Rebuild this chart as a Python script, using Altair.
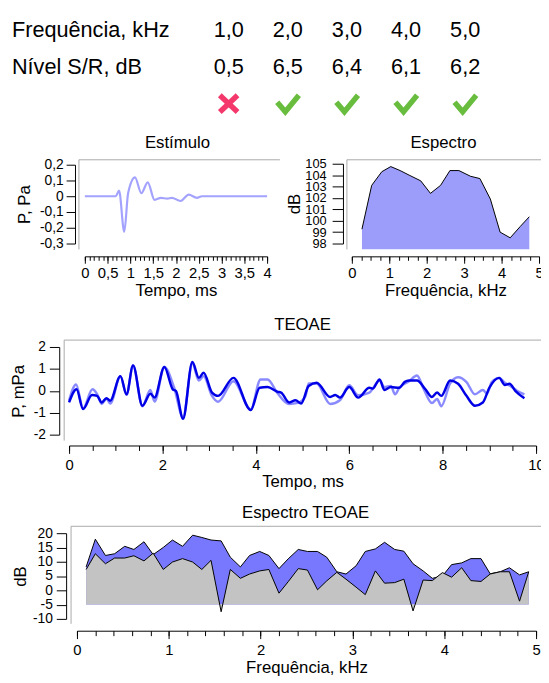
import altair as alt
import pandas as pd

W, H = 541, 675
FONT = "Liberation Sans"
FRAME = "#a9a9a9"

# ---------------- data ----------------
table_freq = [1.0, 2.0, 3.0, 4.0, 5.0]
table_snr = [0.5, 6.5, 6.4, 6.1, 6.2]
table_pass = [False, True, True, True, True]
row_labels = ["Frequência, kHz", "Nível S/R, dB"]

stim_t = [0.0, 0.68, 0.75, 0.865, 0.95, 1.10, 1.24, 1.38, 1.53, 1.67, 1.81, 1.91, 2.10, 2.28, 2.46, 2.57, 2.85, 3.2, 4.0]
stim_p = [0.0, 0.0, 0.036, -0.225, 0.02, 0.12, 0.02, 0.088, -0.023, -0.01, -0.015, -0.01, -0.03, 0.01, -0.01, 0.0, 0.0, 0.0, 0.0]

spec_f = [0.27, 0.53, 0.80, 1.04, 1.29, 1.53, 1.84, 2.10, 2.37, 2.62, 2.86, 3.17, 3.42, 3.70, 3.96, 4.23, 4.50, 4.74]
spec_db = [99.26, 103.1, 104.3, 104.75, 104.4, 104.0, 103.5, 102.4, 103.1, 104.4, 104.4, 103.9, 103.7, 101.9, 99.0, 98.5, 99.5, 100.35]

teo_dark_t = [0.0, 0.16, 0.30, 0.49, 0.60, 0.70, 0.80, 0.88, 1.10, 1.23, 1.37, 1.57, 1.74, 1.83, 2.04, 2.22, 2.29, 2.44,
              2.64, 2.78, 2.88, 3.06, 3.19, 3.52, 3.89, 4.08, 4.25, 4.46, 4.54, 4.71, 4.85, 4.97, 5.13, 5.30, 5.59, 5.70,
              5.80, 6.00, 6.19, 6.43, 6.50, 6.65, 6.75, 6.89, 7.07, 7.19, 7.28, 7.45, 7.63, 7.77, 7.88, 7.97, 8.16, 8.33,
              8.51, 8.69, 8.86, 9.00, 9.21, 9.33, 9.43, 9.56, 9.75]
teo_dark_v = [-0.53, 0.07, -0.83, -0.19, -0.23, -0.53, -0.34, -0.45, 0.67, -0.16, 1.16, -0.68, -0.13, -0.31, 1.09, 0.07, -0.01, -1.28,
              1.31, 0.59, 0.82, -0.08, -0.23, 0.59, -0.88, 0.14, 0.17, -0.04, -0.08, -0.53, -0.43, -0.58, 0.22, 0.37, -0.28, -0.19,
              -0.31, 0.17, -0.31, 0.14, 0.10, 0.52, 0.04, 0.17, 0.14, 0.41, 0.47, 0.47, 0.07, -0.28, -0.08, -0.23, 0.47, 0.32,
              -0.23, -0.68, -0.53, 0.14, 0.59, 0.27, 0.32, -0.01, -0.34]

teo_light_t = [0.0, 0.15, 0.30, 0.50, 0.60, 0.70, 0.80, 0.88, 1.10, 1.23, 1.37, 1.57, 1.74, 1.83, 2.04, 2.25, 2.44, 2.64,
               2.78, 2.88, 3.06, 3.19, 3.52, 3.89, 4.10, 4.25, 4.46, 4.71, 4.90, 5.06, 5.13, 5.30, 5.59, 5.80, 6.00, 6.19,
               6.43, 6.65, 6.75, 6.89, 6.98, 7.07, 7.28, 7.45, 7.59, 7.77, 7.88, 7.97, 8.16, 8.33, 8.51, 8.69, 8.86, 8.95,
               9.05, 9.21, 9.33, 9.45, 9.60, 9.75]
teo_light_v = [-0.45, 0.29, -0.80, 0.07, -0.15, -0.60, -0.35, -0.58, 0.67, -0.18, 1.16, -0.70, 0.04, -0.49, 1.09, 0.14, -1.20, 1.24,
               0.47, 0.67, -0.23, -0.50, 0.44, -0.85, 0.52, 0.52, -0.10, -0.60, -0.55, -0.25, 0.33, 0.33, -0.60, -0.43, 0.25, -0.20,
               -0.08, 0.47, 0.17, 0.22, -0.16, 0.14, 0.44, 0.70, 0.10, -0.56, -0.37, -0.70, 0.34, 0.62, 0.40, -0.16, 0.04, -0.13,
               0.40, 0.59, 0.37, 0.22, -0.01, -0.16]

oae_f = [0.10, 0.20, 0.31, 0.41, 0.52, 0.62, 0.73, 0.83, 0.94, 1.04, 1.15, 1.26, 1.36, 1.46, 1.57, 1.67, 1.78, 1.88, 1.99, 2.09,
         2.20, 2.30, 2.41, 2.51, 2.62, 2.72, 2.83, 2.93, 3.04, 3.14, 3.25, 3.35, 3.46, 3.56, 3.66, 3.77, 3.87, 3.98, 4.08, 4.19,
         4.29, 4.40, 4.50, 4.61, 4.71, 4.82, 4.92]
oae_signal = [8.2, 17.9, 12.2, 12.8, 15.4, 14.3, 17.0, 12.5, 15.0, 17.6, 15.4, 19.3, 18.5, 17.6, 17.3, 11.6, 8.2, 12.2, 13.6, 12.2,
              7.6, 11.0, 14.3, 13.6, 13.6, 11.6, 6.5, 5.7, 8.6, 13.6, 14.5, 16.8, 14.3, 13.7, 9.3, 6.8, 4.2, 5.0, 9.0, 9.6,
              11.1, 11.1, 5.8, 6.5, 7.9, 5.4, 6.5]
oae_noise = [7.3, 12.8, 9.3, 11.3, 11.3, 12.1, 10.3, 13.0, 7.3, 9.9, 11.1, 9.9, 7.3, 10.5, -7.5, 7.3, 4.2, 5.7, 6.8, 7.3,
             -1.0, 3.0, 7.6, 7.1, 0.2, 3.3, 6.3, 3.9, 1.1, -1.5, 6.8, 2.5, 2.7, 3.9, -7.2, 3.6, 3.4, 6.2, 4.6, 7.9,
             3.4, 3.1, 5.7, 6.5, 6.5, -3.8, 6.5]
oae_floor = -5

# ---------------- helpers ----------------
ONE = pd.DataFrame({"k": [0]})
MINUS = "\u2212"


def frame(left, top, right, bottom):
    t = alt.Chart(ONE).mark_rule(color=FRAME, strokeWidth=1).encode(
        x=alt.value(left), x2=alt.value(right), y=alt.value(top))
    l = alt.Chart(ONE).mark_rule(color=FRAME, strokeWidth=1).encode(
        x=alt.value(left), y=alt.value(top), y2=alt.value(bottom))
    return [t, l]


def panel_title(txt, x, y, size=17):
    return alt.Chart(pd.DataFrame({"t": [txt]})).mark_text(
        font=FONT, fontSize=size, align="center", baseline="middle", color="black"
    ).encode(x=alt.value(x), y=alt.value(y), text="t:N")


def xaxis(y_px, values, title=None, tick=7, labels=True, expr=None, pad=2, tpad=3, domain=True, size=None):
    kw = dict(orient="bottom", offset=y_px - H, values=values, tickSize=tick, labelFlush=False,
              labelOverlap=False, labelPadding=pad, domain=domain, labels=labels, titlePadding=tpad)
    kw["title"] = title if title else None
    if expr:
        kw["labelExpr"] = expr
    if size:
        kw["labelFontSize"] = size
    return alt.Axis(**kw)


def yaxis(x_px, values, title, tick=9, expr=None, pad=3, tpad=6, size=None):
    kw = dict(orient="left", offset=-x_px, values=values, tickSize=tick, labelOverlap=False,
              labelPadding=pad, title=title, titlePadding=tpad, labelFlush=False)
    if expr:
        kw["labelExpr"] = expr
    if size:
        kw["labelFontSize"] = size
    return alt.Axis(**kw)


layers = []

# ---------------- top table ----------------
tbl = pd.DataFrame({
    "freq": table_freq,
    "snr": table_snr,
    "status": ["pass" if p else "fail" for p in table_pass],
})
col_x = alt.X("freq:Q", scale=alt.Scale(domain=[1, 5], range=[224, 464], nice=False, zero=False), axis=None)

rows = pd.DataFrame({"label": row_labels, "row": [0, 1]})
layers.append(alt.Chart(rows).mark_text(font=FONT, fontSize=22, align="left", baseline="middle", color="black").encode(
    x=alt.value(4),
    y=alt.Y("row:Q", scale=alt.Scale(domain=[0, 1], range=[17, 55], nice=False, zero=False), axis=None),
    text="label:N"))

layers.append(alt.Chart(tbl).transform_calculate(
    txt="replace(format(datum.freq, '.1f'), '.', ',')"
).mark_text(font=FONT, fontSize=22, align="center", baseline="middle", color="black").encode(
    x=col_x, y=alt.value(17), text="txt:N"))

layers.append(alt.Chart(tbl).transform_calculate(
    txt="replace(format(datum.snr, '.1f'), '.', ',')"
).mark_text(font=FONT, fontSize=22, align="center", baseline="middle", color="black").encode(
    x=col_x, y=alt.value(55), text="txt:N"))

CHECK = "M -0.86 -0.12 L -0.2 0.66 L 0.9 -0.68"
CROSS = "M -0.72 -0.68 L 0.72 0.68 M -0.72 0.68 L 0.72 -0.68"
layers.append(alt.Chart(tbl).mark_point(filled=False, strokeWidth=5.5, size=625, opacity=1).encode(
    x=col_x, y=alt.value(92),
    shape=alt.Shape("status:N", scale=alt.Scale(domain=["fail", "pass"], range=[CROSS, CHECK]), legend=None),
    color=alt.Color("status:N", scale=alt.Scale(domain=["fail", "pass"], range=["#f4386c", "#69bd3e"]), legend=None)))

# ---------------- Estímulo ----------------
stim = pd.DataFrame({"t": stim_t, "p": stim_p})
sx = alt.Scale(domain=[0, 4], range=[78, 263], nice=False, zero=False)
sy = alt.Scale(domain=[-0.3, 0.2], range=[234, 154], nice=False, zero=False)
layers += frame(72, 149, 276, 240)
layers.append(panel_title("Estímulo", 172, 132))
layers.append(alt.Chart(stim).mark_line(color="#a3a3ff", strokeWidth=2.2, interpolate="monotone").encode(
    x=alt.X("t:Q", scale=sx, axis=xaxis(247, [0, 0.5, 1, 1.5, 2, 2.5, 3, 3.5, 4], title="Tempo, ms", tick=7,
                                        expr="replace(format(datum.value, '~g'), '.', ',')", pad=2, tpad=3, size=15)),
    y=alt.Y("p:Q", scale=sy, axis=yaxis(68, [-0.3, -0.2, -0.1, 0, 0.1, 0.2], "P, Pa", tick=9,
                                        expr="datum.value == 0 ? '0' : replace(replace(format(datum.value, '.1f'), '.', ','), '" + MINUS + "', '-')",
                                        pad=3, tpad=6, size=14))))
layers.append(alt.Chart(stim).mark_line(opacity=0).encode(
    x=alt.X("t:Q", scale=sx, axis=xaxis(247, [round(i * 0.1, 1) for i in range(41)], tick=4, labels=False, domain=False)),
    y=alt.Y("p:Q", scale=sy, axis=None)))

# ---------------- Espectro ----------------
spec = pd.DataFrame({"f": spec_f, "db": spec_db})
fx = alt.Scale(domain=[0, 5], range=[349, 539], nice=False, zero=False)
fy = alt.Scale(domain=[98, 105], range=[234, 153], nice=False, zero=False)
layers += frame(344, 149, 541, 240)
layers.append(panel_title("Espectro", 442, 132))
layers.append(alt.Chart(spec).mark_area(color="#9c9cfb", opacity=1, line={"color": "black", "strokeWidth": 1}).encode(
    x=alt.X("f:Q", scale=fx, axis=xaxis(247, [0, 1, 2, 3, 4, 5], title="Frequência, kHz", tick=7, pad=2, tpad=3, size=15)),
    y=alt.Y("db:Q", scale=fy, axis=yaxis(340, [98, 99, 100, 101, 102, 103, 104, 105], "dB", tick=11, pad=6, tpad=1, size=13)),
    y2=alt.datum(97.5)))
layers.append(alt.Chart(spec).mark_line(opacity=0).encode(
    x=alt.X("f:Q", scale=fx, axis=xaxis(247, [i * 0.25 for i in range(21)], tick=4, labels=False, domain=False)),
    y=alt.Y("db:Q", scale=fy, axis=None)))

# ---------------- TEOAE ----------------
dark = pd.DataFrame({"t": teo_dark_t, "v": teo_dark_v})
light = pd.DataFrame({"t": teo_light_t, "v": teo_light_v})
tx = alt.Scale(domain=[0, 10], range=[62, 536], nice=False, zero=False)
ty = alt.Scale(domain=[-2, 2], range=[428, 339], nice=False, zero=False)
layers += frame(57, 332, 541, 434)
layers.append(panel_title("TEOAE", 299, 317))
layers.append(alt.Chart(light).mark_line(color="#8a8aff", strokeWidth=2.5, interpolate="monotone").encode(
    x=alt.X("t:Q", scale=tx, axis=None), y=alt.Y("v:Q", scale=ty, axis=None)))
layers.append(alt.Chart(dark).mark_line(color="#0000e6", strokeWidth=2.5, interpolate="monotone").encode(
    x=alt.X("t:Q", scale=tx, axis=xaxis(439, [0, 2, 4, 6, 8, 10], title="Tempo, ms", tick=8, pad=4, tpad=2, size=15)),
    y=alt.Y("v:Q", scale=ty, axis=yaxis(52, [-2, -1, 0, 1, 2], "P, mPa", tick=10,
                                        expr="replace(datum.label, '" + MINUS + "', '-')", pad=4, tpad=6, size=14))))
layers.append(alt.Chart(dark).mark_line(opacity=0).encode(
    x=alt.X("t:Q", scale=tx, axis=xaxis(439, [i * 0.5 for i in range(21)], tick=5, labels=False, domain=False)),
    y=alt.Y("v:Q", scale=ty, axis=None)))

# ---------------- Espectro TEOAE ----------------
oae = pd.DataFrame({"f": oae_f, "signal": oae_signal, "noise": oae_noise})
bx = alt.Scale(domain=[0, 5], range=[70, 536], nice=False, zero=False)
by = alt.Scale(domain=[-10, 20], range=[615, 528], nice=False, zero=False)
layers += frame(64, 521, 541, 620)
layers.append(panel_title("Espectro TEOAE", 302, 508))
layers.append(alt.Chart(oae).mark_area(color="#7878ff", opacity=1, line={"color": "black", "strokeWidth": 1}).encode(
    x=alt.X("f:Q", scale=bx, axis=xaxis(627, [0, 1, 2, 3, 4, 5], title="Frequência, kHz", tick=8, pad=4, tpad=2, size=15)),
    y=alt.Y("signal:Q", scale=by, axis=yaxis(59, [-10, -5, 0, 5, 10, 15, 20], "dB", tick=10,
                                             expr="replace(datum.label, '" + MINUS + "', '-')", pad=4, tpad=3, size=14)),
    y2=alt.datum(oae_floor)))
layers.append(alt.Chart(oae).mark_area(color="#c3c3c3", opacity=1, line={"color": "black", "strokeWidth": 1}).encode(
    x=alt.X("f:Q", scale=bx, axis=None),
    y=alt.Y("noise:Q", scale=by, axis=None),
    y2=alt.datum(oae_floor)))
layers.append(alt.Chart(oae).mark_line(opacity=0).encode(
    x=alt.X("f:Q", scale=bx, axis=xaxis(627, [round(i * 0.2, 1) for i in range(26)], tick=5, labels=False, domain=False)),
    y=alt.Y("signal:Q", scale=by, axis=None)))

chart = alt.layer(*layers).resolve_scale(
    x="independent", y="independent", color="independent", shape="independent"
).resolve_axis(x="independent", y="independent").properties(
    width=W, height=H, autosize=alt.AutoSizeParams(type="none"), padding=0
).configure_view(strokeWidth=0).configure_axis(
    labelFont=FONT, labelFontSize=14, labelColor="black", titleFont=FONT, titleFontSize=17,
    titleFontWeight="normal", titleColor="black", domainColor="black", tickColor="black", grid=False
)

chart.save("out.html", embed_options={"renderer": "svg", "actions": False})
